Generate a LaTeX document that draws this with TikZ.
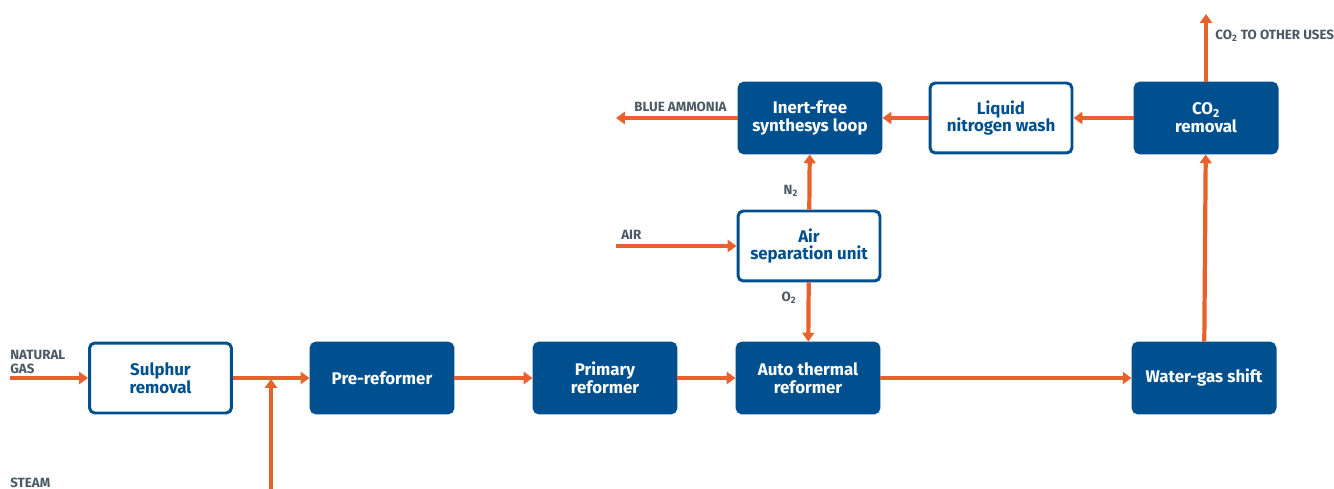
\documentclass[tikz,border=0pt]{standalone}
\usepackage{fontspec}
\setmainfont{Fira Sans}
\usetikzlibrary{arrows.meta}
\definecolor{plantblue}{HTML}{00508F}
\definecolor{flow}{HTML}{E8612C}
\definecolor{tag}{HTML}{4B5A66}

\begin{document}
\begin{tikzpicture}[x=0.02cm,y=-0.02cm,
    unit/.style={rounded corners=3pt, minimum width=2.84cm, minimum height=1.4cm,
      align=center, font=\bfseries\fontsize{9.6}{10.2}\selectfont, line width=1.7pt},
    darkunit/.style={unit, fill=plantblue, draw=plantblue, text=white},
    openunit/.style={unit, fill=white, draw=plantblue, text=plantblue},
    stream/.style={draw=flow, line width=2.4pt, -{Triangle[width=6.8pt,length=5pt]}},
    tagtext/.style={text=tag, font=\bfseries\fontsize{7.6}{7.8}\selectfont, inner sep=0pt}]
      \useasboundingbox (0,0) rectangle (1334,489);

      % main train
      \node[openunit] (sulphur) at (160.5,378) {Sulphur\\removal};
      \node[darkunit] (prerefo) at (382,378) {Pre-reformer};
      \node[darkunit] (primary) at (605,378) {Primary\\reformer};
      \node[darkunit] (autoth) at (808,378) {Auto thermal\\reformer};
      \node[darkunit] (wgshift) at (1204,378) {Water-gas shift};

      % upper part
      \node[openunit] (asu) at (809,246) {Air\\separation unit};
      \node[darkunit] (loop) at (810,118) {Inert-free\\synthesys loop};
      \node[openunit] (lnwash) at (1001,118) {Liquid\\nitrogen wash};
      \node[darkunit] (coremov) at (1206,118) {CO\textsubscript{2}\\removal};

      \coordinate (gasin) at (10,378);
      \coordinate (steamin) at (271,489);
      \coordinate (mix) at (271,379);
      \coordinate (airin) at (616,246);
      \coordinate (ammout) at (616,118);
      \coordinate (coout) at (1206,14);

      \draw[stream] (gasin) -- (sulphur);
      \draw[stream] (sulphur) -- (prerefo);
      \draw[stream] (steamin) -- (mix);
      \draw[stream] (prerefo) -- (primary);
      \draw[stream] (primary) -- (autoth);
      \draw[stream] (autoth) -- (wgshift);
      \draw[stream] (wgshift) -- (coremov);
      \draw[stream] (coremov) -- (coout);
      \draw[stream] (coremov) -- (lnwash);
      \draw[stream] (lnwash) -- (loop);
      \draw[stream] (loop) -- (ammout);
      \draw[stream] (airin) -- (asu);
      \draw[stream] (asu) -- (loop);
      \draw[stream] (asu) -- (autoth);

      \node[tagtext, anchor=west, align=left] (natgas) at (10,362) {NATURAL\\GAS};
      \node[tagtext, anchor=west] (steam) at (10,483) {STEAM};
      \node[tagtext, anchor=west] (airtag) at (621,235) {AIR};
      \node[tagtext, anchor=west] (blueamm) at (634,107) {BLUE AMMONIA};
      \node[tagtext, anchor=west] (cotag) at (1215,36) {CO\textsubscript{2} TO OTHER USES};
      \node[tagtext] (ntag) at (791,191) {N\textsubscript{2}};
      \node[tagtext] (otag) at (789,298) {O\textsubscript{2}};
\end{tikzpicture}
\end{document}
